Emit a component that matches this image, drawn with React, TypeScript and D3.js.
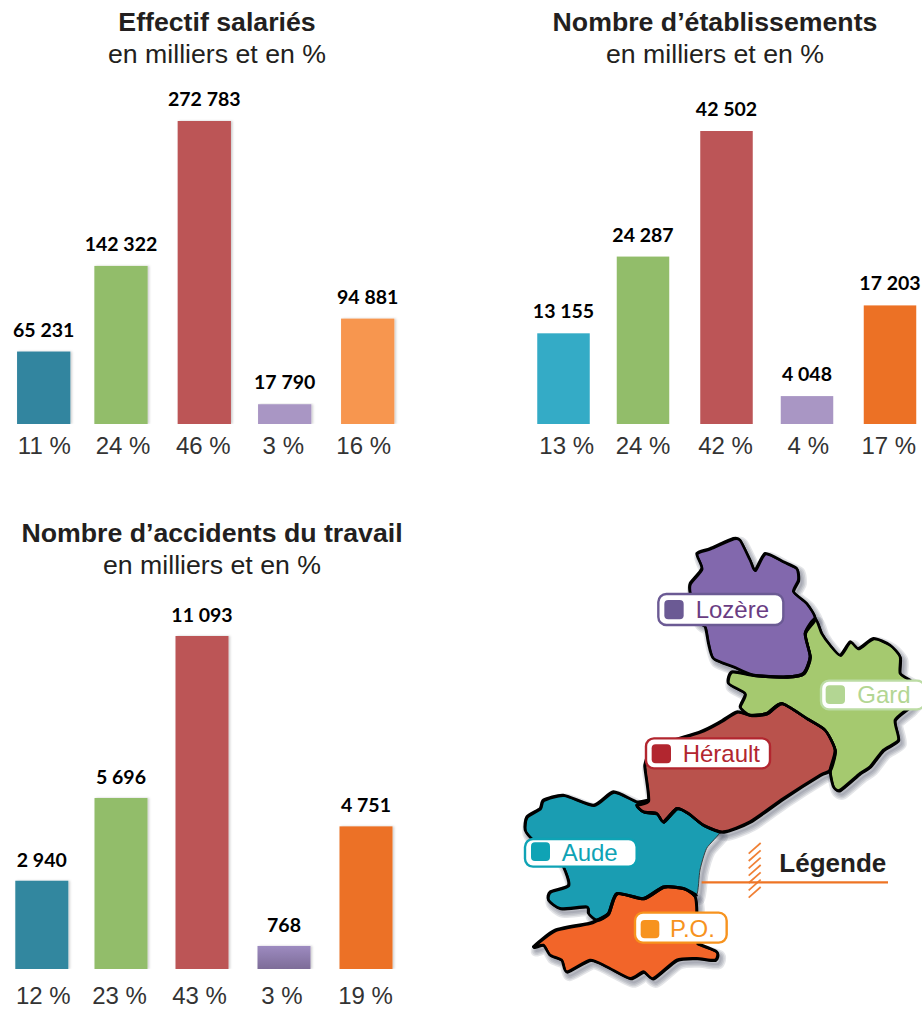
import React from "react";
import * as d3 from "d3";

const departments = ["Aude", "Gard", "Hérault", "Lozère", "P.O."];
const effectifValues = [65231, 142322, 272783, 17790, 94881];
const effectifLabels = ["65 231", "142 322", "272 783", "17 790", "94 881"];
const effectifShares = ["11 %", "24 %", "46 %", "3 %", "16 %"];
const etabValues = [13155, 24287, 42502, 4048, 17203];
const etabLabels = ["13 155", "24 287", "42 502", "4 048", "17 203"];
const etabShares = ["13 %", "24 %", "42 %", "4 %", "17 %"];
const accidentValues = [2940, 5696, 11093, 768, 4751];
const accidentLabels = ["2 940", "5 696", "11 093", "768", "4 751"];
const accidentShares = ["12 %", "23 %", "43 %", "3 %", "19 %"];

const palette1 = ["#33859f", "#92bd6a", "#bc5557", "#a996c4", "#f79650"];
const palette2 = ["#34abc6", "#92bd6a", "#bc5557", "#a996c4", "#ec7125"];
const palette3 = ["#31879f", "#92bd6a", "#bc5557", "url(#purpleFade)", "#ec7125"];

type P = [number, number];
const lozere: P[] = [[530,70],[570,55],[640,25],[660,30],[690,90],[705,120],[735,70],[790,95],[830,115],[835,150],[820,185],[860,220],[885,265],[855,310],[870,380],[850,430],[800,440],[700,435],[640,410],[580,385],[565,340],[555,290],[530,270],[510,190],[510,160],[545,115]];
const gard: P[] = [[885,265],[905,310],[930,345],[960,375],[990,335],[1015,355],[1060,325],[1110,345],[1140,380],[1140,430],[1170,450],[1200,490],[1170,530],[1125,570],[1135,630],[1090,660],[1050,710],[1020,730],[960,780],[940,770],[930,720],[945,660],[915,600],[860,565],[785,520],[740,550],[690,555],[660,530],[675,490],[625,460],[635,425],[700,435],[800,440],[850,430],[870,380],[855,310]];
const herault: P[] = [[650,545],[690,555],[740,550],[785,520],[860,565],[915,600],[945,660],[930,720],[900,735],[790,805],[690,875],[610,905],[550,885],[505,850],[470,835],[430,875],[410,850],[370,845],[350,825],[385,810],[375,720],[375,700],[400,650],[540,605],[600,575]];
const aude: P[] = [[530,1095],[490,1075],[430,1070],[370,1105],[290,1090],[265,1150],[230,1170],[205,1150],[200,1130],[120,1135],[85,1110],[90,1085],[145,1065],[130,1010],[100,965],[40,930],[15,900],[20,860],[60,835],[70,810],[130,795],[220,825],[280,785],[350,815],[385,810],[350,825],[370,845],[410,850],[430,875],[470,835],[505,850],[550,885],[600,905],[560,955],[540,1020]];
const po: P[] = [[530,1240],[590,1265],[585,1290],[530,1285],[470,1290],[400,1345],[370,1325],[330,1345],[260,1310],[210,1290],[140,1325],[125,1290],[90,1275],[70,1245],[40,1250],[105,1200],[205,1180],[230,1170],[265,1150],[290,1090],[370,1105],[430,1070],[490,1075],[525,1100],[530,1150]];
const hatchRows = [0, 1, 2, 3, 4, 5, 6];
const shadowWidths = [11, 8, 5, 2];

const mx = d3.scaleLinear().domain([0, 1206]).range([520, 922]);
const my = d3.scaleLinear().domain([0, 1440]).range([530, 1010]);
const closed = d3.line<P>().x(d => mx(d[0])).y(d => my(d[1])).curve(d3.curveCardinalClosed.tension(0.35));
const open = d3.line<P>().x(d => mx(d[0])).y(d => my(d[1])).curve(d3.curveCardinal.tension(0.35));

const helv = "'Liberation Sans', Arial, sans-serif";

function BarChart(props: { title: string; cx: number; titleY: number; centers: number[]; base: number; height: number; width: number; values: number[]; labels: string[]; shares: string[]; colors: string[]; shareX: number[]; labelGap: number; shareGap: number; shadow: boolean }) {
  const { title, cx, titleY, centers, base, height, width, values, labels, shares, colors, shareX, labelGap, shareGap, shadow } = props;
  const y = d3.scaleLinear().domain([0, d3.max(values) as number]).range([base, base - height]);
  const x = d3.scaleOrdinal<string, number>().domain(departments).range(centers);
  const sx = d3.scaleOrdinal<string, number>().domain(departments).range(shareX);
  return (
    <g>
      <text x={cx} y={titleY} textAnchor="middle" fontFamily={helv} fontWeight="bold" fontSize={26.7} fill="#231f20">{title}</text>
      <text x={cx} y={titleY + 32} textAnchor="middle" fontFamily={helv} fontSize={26.7} fill="#231f20">en milliers et en %</text>
      {departments.map((d, i) => (
        <g key={d}>
          <rect x={x(d) - width / 2} y={y(values[i])} width={width} height={base - y(values[i])} fill={colors[i]} filter={shadow ? "url(#barShadow)" : undefined} />
          <text x={x(d)} y={y(values[i]) - labelGap} textAnchor="middle" fontFamily="Lato, sans-serif" fontWeight="bold" fontSize={19.5} fill="#000">{labels[i]}</text>
          <text x={sx(d)} y={base + shareGap} textAnchor="middle" fontFamily={helv} fontSize={24} fill="#333">{shares[i]}</text>
        </g>
      ))}
    </g>
  );
}

function Tag(props: { label: string; box: number[]; sq: number[]; tx: number; ty: number; stroke: string; sqFill: string; text: string }) {
  const { label, box, sq, tx, ty, stroke, sqFill, text } = props;
  return (
    <g>
      <rect x={mx(box[0])} y={my(box[1])} width={mx(box[2]) - mx(box[0])} height={my(box[3]) - my(box[1])} rx={8} fill="#fff" stroke={stroke} strokeWidth={2.4} />
      <rect x={mx(sq[0])} y={my(sq[1])} width={mx(sq[2]) - mx(sq[0])} height={my(sq[3]) - my(sq[1])} rx={4} fill={sqFill} />
      <text x={mx(tx)} y={my(ty)} fontFamily={helv} fontSize={24} fill={text}>{label}</text>
    </g>
  );
}

function MapPanel() {
  const regions = [
    { pts: gard, fill: "#a5c96f" },
    { pts: lozere, fill: "#8268ad" },
    { pts: aude, fill: "#1a9db2" },
    { pts: po, fill: "#f26529" },
    { pts: herault, fill: "#b9524c" },
  ];
  const outlines = [closed(gard), closed(lozere), closed(herault), open(aude.slice(0, 33)), open(po.slice(0, 25))] as string[];
  return (
    <g>
      {shadowWidths.map(w => (
        <g key={w} transform="translate(3,4)" fill="none" stroke="#5a5f70" strokeOpacity={0.16} strokeWidth={w} strokeLinejoin="round">
          {regions.map((r, i) => <path key={i} d={closed(r.pts) as string} />)}
        </g>
      ))}
      {regions.map((r, i) => <path key={i} d={closed(r.pts) as string} fill={r.fill} stroke="#222" strokeWidth={0.8} />)}
      {outlines.map((d, i) => (
        <g key={i} fill="none" stroke="#000" strokeLinejoin="round">
          <path d={d} strokeWidth={2.6} />
          <path d={d} strokeWidth={2} transform="translate(0.8,1)" />
        </g>
      ))}
      <Tag label="Lozère" box={[415,192,790,285]} sq={[433,210,491,268]} tx={527} ty={265} stroke="#6b5a94" sqFill="#6b5a94" text="#6a3d83" />
      <Tag label="Gard" box={[903,452,1215,538]} sq={[917,466,975,522]} tx={1012} ty={520} stroke="#bcdca4" sqFill="#b3d693" text="#b3d693" />
      <Tag label="Hérault" box={[378,625,750,715]} sq={[395,643,453,700]} tx={488} ty={695} stroke="#b2262f" sqFill="#b2262f" text="#b2262f" />
      <Tag label="Aude" box={[15,927,350,1010]} sq={[33,937,90,993]} tx={125} ty={992} stroke="#0fa3b5" sqFill="#0fa3b5" text="#0fa3b5" />
      <Tag label="P.O." box={[345,1148,620,1238]} sq={[362,1170,418,1225]} tx={450} ty={1220} stroke="#f7931e" sqFill="#f7931e" text="#f7931e" />
      {hatchRows.map(r => (
        <line key={r} x1={mx(686)} y1={my(1103 - r * 22)} x2={mx(722)} y2={my(1071 - r * 22)} stroke="#f08035" strokeWidth={1.7} />
      ))}
      <line x1={mx(545)} y1={my(1057)} x2={mx(1104)} y2={my(1057)} stroke="#ee7424" strokeWidth={2.4} />
      <text x={mx(778)} y={my(1025)} fontFamily={helv} fontWeight="bold" fontSize={26} fill="#231f20">Légende</text>
    </g>
  );
}

export default function App() {
  return (
    <svg width={922} height={1011} style={{ position: "absolute", left: 0, top: 0, background: "#fff" }}>
      <defs>
        <filter id="barShadow" x="-10%" y="-5%" width="125%" height="105%">
          <feDropShadow dx={1.5} dy={0} stdDeviation={1} floodColor="#000" floodOpacity={0.2} />
        </filter>
        <linearGradient id="purpleFade" x1="0" y1="0" x2="0" y2="1">
          <stop offset="0%" stopColor="#9d8bc0" />
          <stop offset="100%" stopColor="#7d6c98" />
        </linearGradient>
      </defs>
      <BarChart title="Effectif salariés" cx={217} titleY={31} centers={[43.7, 121, 204.3, 284.7, 367.7]} shareX={[44.3, 123, 203.3, 283.3, 363.7]} base={424} height={303} width={53.3} values={effectifValues} labels={effectifLabels} shares={effectifShares} colors={palette1} labelGap={15} shareGap={30} shadow={true} />
      <BarChart title="Nombre d’établissements" cx={715} titleY={31} centers={[563.5, 643, 726.5, 807, 890]} shareX={[566.7, 643, 725.5, 808.3, 888.8]} base={424} height={293} width={52.5} values={etabValues} labels={etabLabels} shares={etabShares} colors={palette2} labelGap={15} shareGap={30} shadow={false} />
      <BarChart title="Nombre d’accidents du travail" cx={212} titleY={542} centers={[41.8, 121, 202, 284, 366]} shareX={[43.3, 119.5, 199.5, 282, 365.5]} base={969} height={333} width={53} values={accidentValues} labels={accidentLabels} shares={accidentShares} colors={palette3} labelGap={14} shareGap={35} shadow={true} />
      <MapPanel />
    </svg>
  );
}
